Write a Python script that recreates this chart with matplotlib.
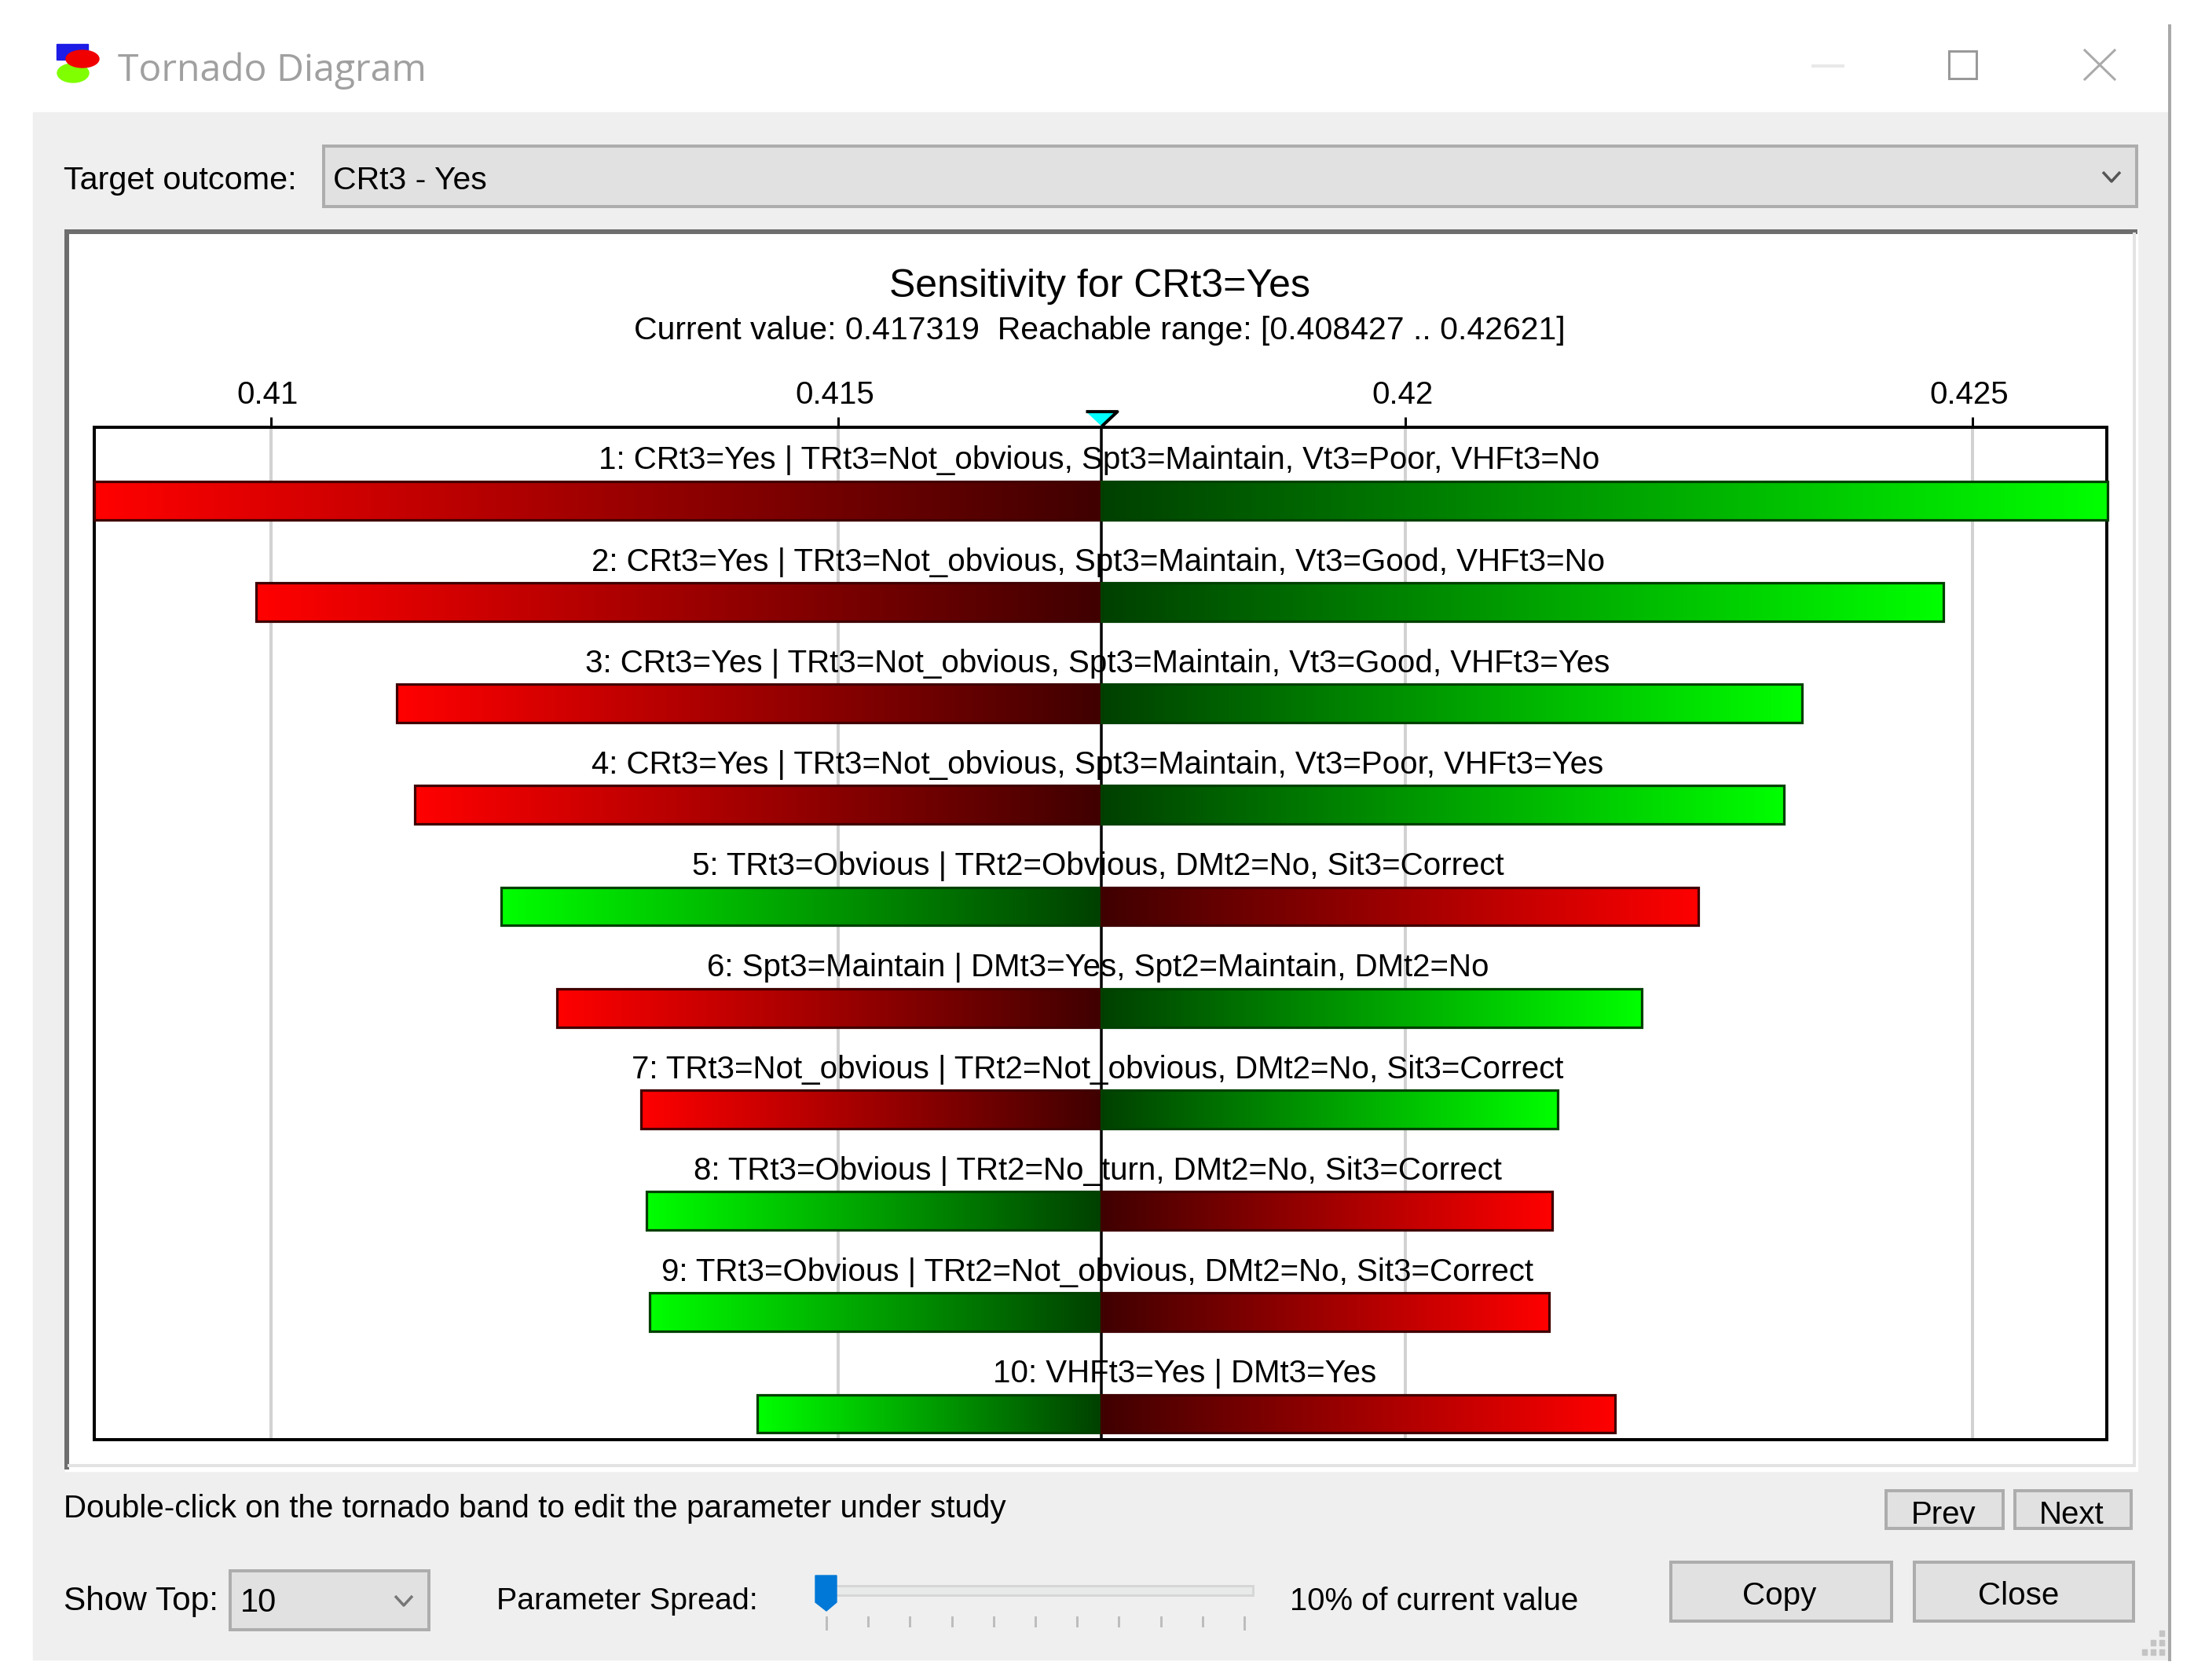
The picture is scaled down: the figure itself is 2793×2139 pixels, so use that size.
#!/usr/bin/env python3
"""Tornado diagram dialog, redrawn with matplotlib."""

import matplotlib
matplotlib.use("Agg")
import matplotlib.pyplot as plt
import numpy as np
from matplotlib.colors import LinearSegmentedColormap
from matplotlib.patches import Ellipse, Polygon, Rectangle
from matplotlib.transforms import ScaledTranslation, blended_transform_factory

WIDTH = 2793
HEIGHT = 2139

plt.rcParams["font.family"] = ["Liberation Sans", "DejaVu Sans"]

row_labels = [
    "1: CRt3=Yes | TRt3=Not_obvious, Spt3=Maintain, Vt3=Poor, VHFt3=No",
    "2: CRt3=Yes | TRt3=Not_obvious, Spt3=Maintain, Vt3=Good, VHFt3=No",
    "3: CRt3=Yes | TRt3=Not_obvious, Spt3=Maintain, Vt3=Good, VHFt3=Yes",
    "4: CRt3=Yes | TRt3=Not_obvious, Spt3=Maintain, Vt3=Poor, VHFt3=Yes",
    "5: TRt3=Obvious | TRt2=Obvious, DMt2=No, Sit3=Correct",
    "6: Spt3=Maintain | DMt3=Yes, Spt2=Maintain, DMt2=No",
    "7: TRt3=Not_obvious | TRt2=Not_obvious, DMt2=No, Sit3=Correct",
    "8: TRt3=Obvious | TRt2=No_turn, DMt2=No, Sit3=Correct",
    "9: TRt3=Obvious | TRt2=Not_obvious, DMt2=No, Sit3=Correct",
    "10: VHFt3=Yes | DMt3=Yes",
]
low_values = [0.40844, 0.409866, 0.411105, 0.411265, 0.41203,
              0.412523, 0.413263, 0.413312, 0.413337, 0.414287]
high_values = [0.42619, 0.424745, 0.423499, 0.423339, 0.422586,
               0.422081, 0.421341, 0.421292, 0.421267, 0.421847]
# True where the low end of the band is the bad (red) one
low_is_red = [True, True, True, True, False,
              True, True, False, False, False]
current_value = 0.417319
tick_values = [0.41, 0.415, 0.42, 0.425]
tick_labels = ["0.41", "0.415", "0.42", "0.425"]

RED_MAP = LinearSegmentedColormap.from_list("reds", ["#ff0000", "#400000"])
GREEN_MAP = LinearSegmentedColormap.from_list("greens", ["#00ff00", "#004000"])


def px(value):
    return value * 0.72


def box(ui, x0, y0, x1, y1, fill="#e1e1e1", edge="#adadad", lw=4):
    ui.add_patch(Rectangle((x0, y0), x1 - x0, y1 - y0, facecolor=fill,
                           edgecolor=edge, linewidth=px(lw)))


def chevron(ui, x, y, half=11, color="#555555"):
    ui.plot([x - half, x, x + half], [y - 6, y + 6, y - 6], color=color,
            lw=px(3.5), solid_capstyle="butt")


def draw_window(ui):
    # title bar
    ui.add_patch(Rectangle((72, 56), 40, 20, color="#1c1ce6"))
    ui.add_patch(Ellipse((93, 93), 40, 24, color="#80ff00"))
    ui.add_patch(Ellipse((105, 75), 42, 22, color="#f00000"))
    ui.text(150, 90, "Tornado Diagram", fontsize=34.7, color="#a0a0a0",
            family="Open Sans", ha="left", va="center")
    ui.plot([2308, 2346], [84, 84], color="#e8e8e8", lw=px(4))
    box(ui, 2481, 65, 2516, 100, fill="white", edge="#999999", lw=3)
    ui.plot([2654, 2692], [64, 101], color="#aaaaaa", lw=px(3))
    ui.plot([2654, 2692], [101, 64], color="#aaaaaa", lw=px(3))

    # dialog body
    ui.add_patch(Rectangle((42, 143), 2719, 1970, color="#efefef"))
    ui.plot([2762, 2762], [33, 2113], color="#a9a9a9", lw=px(4))

    ui.text(81, 230, "Target outcome:", fontsize=29.8, va="center")
    box(ui, 412, 186, 2720, 263)
    ui.text(424, 230, "CRt3 - Yes", fontsize=29.4, va="center")
    chevron(ui, 2688, 225)

    # white chart panel with its sunken border
    ui.add_patch(Rectangle((83, 292), 2638, 1581, color="white"))
    ui.plot([85, 85, 2718], [1868, 295, 295], color="#6e6e6e", lw=px(6),
            solid_joinstyle="miter")
    ui.plot([88, 2717, 2717], [1866, 1866, 298], color="#e3e3e3", lw=px(4),
            solid_joinstyle="miter")

    ui.text(1400, 365, "Sensitivity for CRt3=Yes", fontsize=36, ha="center",
            va="center")
    ui.text(1400, 421,
            "Current value: 0.417319  Reachable range: [0.408427 .. 0.42621]",
            fontsize=29.5, ha="center", va="center")

    # controls under the chart
    ui.text(81, 1921,
            "Double-click on the tornado band to edit the parameter under study",
            fontsize=29.1, va="center")
    box(ui, 2401, 1898, 2550, 1946)
    ui.text(2474, 1929, "Prev", fontsize=29, ha="center", va="center")
    box(ui, 2565, 1898, 2713, 1946)
    ui.text(2637, 1929, "Next", fontsize=29, ha="center", va="center")

    ui.text(81, 2039, "Show Top:", fontsize=30.5, va="center")
    box(ui, 293, 2000, 546, 2075)
    ui.text(306, 2041, "10", fontsize=30, va="center")
    chevron(ui, 514, 2038, color="#777777")

    ui.text(632, 2039, "Parameter Spread:", fontsize=28.4, va="center")
    box(ui, 1060, 2019, 1595, 2031, fill="#e8eaea", edge="#d6d6d6", lw=3)
    for x in np.linspace(1052, 1584, 11):
        end = 2074 if x in (1052, 1584) else 2070
        ui.plot([x, x], [2059, end], color="#bdbdbd", lw=px(3))
    ui.add_patch(Polygon([(1038, 2006), (1065, 2006), (1065, 2040),
                          (1052, 2051), (1038, 2040)], color="#0078d7"))
    ui.text(1642, 2039, "10% of current value", fontsize=28.8, va="center")

    box(ui, 2127, 1989, 2408, 2064)
    ui.text(2265, 2032, "Copy", fontsize=29, ha="center", va="center")
    box(ui, 2437, 1989, 2716, 2064)
    ui.text(2570, 2032, "Close", fontsize=29, ha="center", va="center")

    # resize grip
    for col, row in [(2, 0), (2, 1), (1, 1), (2, 2), (1, 2), (0, 2)]:
        ui.add_patch(Rectangle((2727 + col * 11, 2076 + row * 12), 6, 7,
                               color="#c4c4c4"))


def draw_band(ax, row, low, high, red_left, inset=0.0135, band=0.378):
    y0 = row + inset
    for start, end, cmap, edge in (
        (low, current_value, RED_MAP if red_left else GREEN_MAP,
         "#400000" if red_left else "#004000"),
        (high, current_value, GREEN_MAP if red_left else RED_MAP,
         "#004000" if red_left else "#400000"),
    ):
        # gradient runs from the band's tip to the current value
        ramp = np.linspace(0, 1, 256).reshape(1, -1)
        ax.imshow(ramp, cmap=cmap, aspect="auto", zorder=3, clip_on=False,
                  extent=(start, end, y0 + band, y0), interpolation="bilinear")
        ax.add_patch(Rectangle((min(start, end), y0), abs(end - start), band,
                               facecolor="none", edgecolor=edge, zorder=4,
                               linewidth=px(3.2), clip_on=False))


def main():
    fig = plt.figure(figsize=(WIDTH / 100, HEIGHT / 100), dpi=100, facecolor="white")

    ui = fig.add_axes([0, 0, 1, 1], zorder=0)
    ui.set_xlim(0, WIDTH)
    ui.set_ylim(HEIGHT, 0)
    ui.axis("off")
    draw_window(ui)

    left, right, top, bottom = 120, 2682, 544, 1833
    ax = fig.add_axes([left / WIDTH, 1 - bottom / HEIGHT,
                       (right - left) / WIDTH, (bottom - top) / HEIGHT], zorder=1)
    ax.set_facecolor("white")

    for row, (label, low, high, red_left) in enumerate(
        zip(row_labels, low_values, high_values, low_is_red)
    ):
        draw_band(ax, row, low, high, red_left)
        # labels sit over the middle of their own band
        ax.annotate(label, ((low + high) / 2, row - 0.19), xytext=(-px(2), 0),
                    textcoords="offset points", fontsize=29, ha="center",
                    va="center", zorder=5)

    ax.axvline(current_value, color="black", lw=px(3.5), zorder=2)
    ax.set_xlim(0.408442, 0.426184)
    ax.set_ylim(9.458, -0.5186)
    ax.set_yticks([])
    ax.xaxis.tick_top()
    ax.set_xticks(tick_values, tick_labels, fontsize=29)
    ax.tick_params(axis="x", length=px(13), width=px(3), pad=px(9))
    nudge = ScaledTranslation(-px(4) / 72, 0, fig.dpi_scale_trans)
    for tick_label in ax.get_xticklabels():
        tick_label.set_transform(tick_label.get_transform() + nudge)
    ax.grid(axis="x", color="#d2d2d2", lw=px(4), zorder=1)
    ax.set_axisbelow(True)
    for spine in ax.spines.values():
        spine.set_linewidth(px(4))

    marker_pos = blended_transform_factory(ax.transData, ax.transAxes)
    ax.plot(current_value, 1 + 11 / (bottom - top), transform=marker_pos,
            marker=[(-1, 0.47), (1, 0.47), (0, -0.47)], markersize=px(40),
            markerfacecolor="#00ffff", markeredgecolor="black",
            markeredgewidth=px(4), clip_on=False, zorder=6)

    fig.savefig("out.png", dpi=100)
    plt.close(fig)
    return 0


if __name__ == "__main__":
    raise SystemExit(main())
